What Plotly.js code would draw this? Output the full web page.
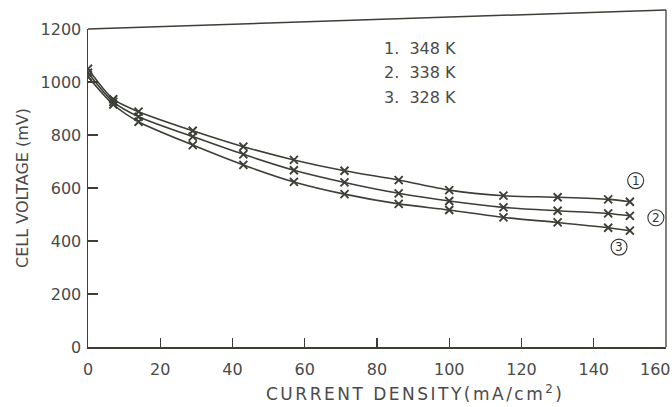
<!DOCTYPE html>
<html>
<head>
<meta charset="utf-8">
<script src="https://cdn.plot.ly/plotly-3.0.1.min.js"></script>
<style>html,body{margin:0;padding:0;background:#fff;}#chart{width:672px;height:407px;}</style>
</head>
<body>
<div id="chart"></div>
<script>
// Current density (mA/cm^2)
const currentDensity = [0, 7, 14, 29, 43, 57, 71, 86, 100, 115, 130, 144, 150];
// Cell voltage (mV)
const v348 = [1050, 935, 888, 816, 756, 706, 665, 630, 592, 571, 565, 557, 548];
const v338 = [1035, 925, 869, 794, 727, 667, 621, 580, 551, 527, 514, 504, 495];
const v328 = [1020, 915, 850, 762, 687, 623, 577, 540, 517, 489, 470, 450, 439];
const seriesNames = ["1. 348 K", "2. 338 K", "3. 328 K"];
const curveLabels = ["1", "2", "3"];
const labelX = [151.6, 157.2, 147];
const labelY = [628, 488, 377];
const xTicks = [0, 20, 40, 60, 80, 100, 120, 140];
const xTickText = ["0", "20", "40", "60", "80", "100", "120", "140"];
const lastXTick = 160;
const yTicks = [0, 200, 400, 600, 800, 1000, 1200];

const ink = "#3b3f36";
const txt = "#4a4a4a";
const fontFam = "DejaVu Sans, sans-serif";
const allSeries = [v348, v338, v328];

const traces = allSeries.map((v, i) => ({
  x: currentDensity,
  y: v,
  name: seriesNames[i],
  mode: "lines+markers",
  line: {color: ink, width: 1.6, shape: "spline", smoothing: 0.8},
  marker: {symbol: "x-thin-open", size: 8, line: {color: ink, width: 1.9}, color: ink},
  hoverinfo: "x+y"
}));

const annotations = [];
seriesNames.forEach((t, i) => {
  annotations.push({
    x: 91.8, y: [1128, 1034, 940][i], xref: "x", yref: "y",
    text: t.replace(". ", ".&nbsp;&nbsp;").replace(" K", "&nbsp;K"),
    showarrow: false, xanchor: "center", yanchor: "middle",
    font: {family: fontFam, size: 16, color: txt}
  });
});
const shapes = [
  {type: "line", xref: "paper", yref: "paper", x0: 0, y0: 1, x1: 1, y1: 1.06, line: {color: ink, width: 1.5}},
  {type: "line", xref: "paper", yref: "paper", x0: 1, y0: 0, x1: 1, y1: 1.06, line: {color: ink, width: 1.3}}
];
curveLabels.forEach((t, i) => {
  annotations.push({
    x: labelX[i], y: labelY[i], xref: "x", yref: "y", text: t,
    showarrow: false, xanchor: "center", yanchor: "middle",
    font: {family: fontFam, size: 12, color: "#333"}
  });
  shapes.push({
    type: "circle", xref: "x", yref: "y",
    xsizemode: "pixel", ysizemode: "pixel",
    xanchor: labelX[i], yanchor: labelY[i],
    x0: -8, x1: 8, y0: -8, y1: 8,
    line: {color: "#333", width: 1.1}
  });
});
// last x tick label, kept inside the page
annotations.push({
  x: lastXTick, y: 0, xref: "x", yref: "paper", yshift: -22,
  text: String(lastXTick), showarrow: false, xanchor: "right", xshift: 7, yanchor: "middle",
  font: {family: fontFam, size: 16, color: txt}
});
// x axis title
annotations.push({
  x: 0.566, y: 0, xref: "paper", yref: "paper", yshift: -46,
  text: "<span style=\"letter-spacing:2.5px\">CURRENT DENSITY(mA/cm<sup>2</sup>)</span>",
  showarrow: false, xanchor: "center", yanchor: "middle",
  font: {family: fontFam, size: 17, color: txt}
});

const layout = {
  width: 672, height: 407,
  margin: {l: 88, r: 6, t: 29, b: 60},
  paper_bgcolor: "#fff", plot_bgcolor: "#fff",
  showlegend: false,
  font: {family: fontFam, size: 15, color: txt},
  xaxis: {
    range: [0, 160], tickvals: xTicks, ticktext: xTickText,
    showgrid: false, zeroline: false, showline: true, linecolor: ink, linewidth: 1.5,
    ticks: "inside", ticklen: 9, tickwidth: 1.3, tickcolor: ink,
    ticklabelstandoff: 7,
    tickfont: {family: fontFam, size: 16, color: txt}
  },
  yaxis: {
    range: [0, 1200], tickvals: yTicks,
    showgrid: false, zeroline: false, showline: true, linecolor: ink, linewidth: 1.5,
    ticks: "inside", ticklen: 10, tickwidth: 1.3, tickcolor: ink,
    ticklabelstandoff: 2,
    tickfont: {family: fontFam, size: 16, color: txt},
    title: {text: "CELL VOLTAGE (mV)", font: {family: fontFam, size: 16, color: txt}, standoff: 8}
  },
  shapes: shapes,
  annotations: annotations
};

Plotly.newPlot("chart", traces, layout, {displayModeBar: false, staticPlot: true});
</script>
</body>
</html>
